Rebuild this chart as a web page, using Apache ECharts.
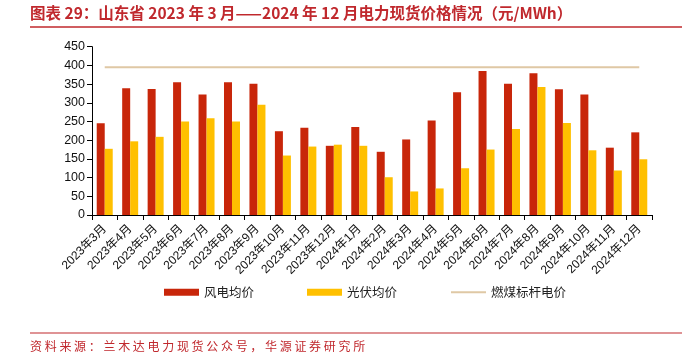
<!DOCTYPE html>
<html>
<head>
<meta charset="utf-8">
<script src="https://cdn.jsdelivr.net/npm/echarts@6/dist/echarts.min.js"></script>
<style>
html,body{margin:0;padding:0;background:#fff;}
#c{width:691px;height:355px;}
</style>
</head>
<body>
<div id="c"></div>
<script>
const categories = ['2023年3月','2023年4月','2023年5月','2023年6月','2023年7月','2023年8月','2023年9月','2023年10月','2023年11月','2023年12月','2024年1月','2024年2月','2024年3月','2024年4月','2024年5月','2024年6月','2024年7月','2024年8月','2024年9月','2024年10月','2024年11月','2024年12月'];
const windPrice = [245,339,337,355,322,355,351,224,233,185,235,169,202,253,328,385,351,379,336,322,180,221];
const solarPrice = [177,197,209,250,259,250,295,159,183,188,185,101,63,71,125,175,230,342,246,173,119,149];
const coalBenchmark = [394.9,394.9,394.9,394.9,394.9,394.9,394.9,394.9,394.9,394.9,394.9,394.9,394.9,394.9,394.9,394.9,394.9,394.9,394.9,394.9,394.9,394.9];
const yTicks = {min:0, max:450, interval:50};
const titleText = '图表 29：山东省 2023 年 3 月——2024 年 12 月电力现货价格情况（元/MWh）';
const sourceText = '资料来源：兰木达电力现货公众号，华源证券研究所';

const chart = echarts.init(document.getElementById('c'));
const sans = 'Liberation Sans, Arial, Noto Sans CJK SC, sans-serif';
chart.setOption({
  animation:false,
  textStyle:{fontFamily:sans},
  graphic:[
    {type:'text', left:30, top:5, style:{text:titleText, fill:'#C0282D', font:'bold 15.5px "Noto Sans CJK SC", sans-serif'}},
    {type:'line', shape:{x1:30,y1:27,x2:682,y2:27}, style:{stroke:'#C0282D', lineWidth:1.5}},
    {type:'line', shape:{x1:30,y1:333,x2:682,y2:333}, style:{stroke:'#C0282D', lineWidth:1.2}},
    {type:'text', left:30, top:340, style:{text:sourceText.split('').join(' '), fill:'#C0282D', font:'12px "Noto Sans CJK SC", sans-serif'}}
  ],
  legend:{
    left:164, top:286, padding:0, itemWidth:35, itemHeight:7, itemGap:53,
    textStyle:{fontSize:12.5, color:'#222', fontFamily:'Noto Sans CJK SC, sans-serif'},
    data:[{name:'风电均价', icon:'rect'},{name:'光伏均价', icon:'rect'},{name:'燃煤标杆电价', itemStyle:{opacity:0}, lineStyle:{color:'#DFC8A5', width:2}}]
  },
  grid:{left:92, right:39, top:46.7, bottom:140, containLabel:false},
  xAxis:{
    type:'category', data:categories, boundaryGap:true,
    axisLine:{lineStyle:{color:'#000', width:1}},
    axisTick:{show:true, alignWithLabel:false, length:5, lineStyle:{color:'#000'}},
    axisLabel:{rotate:45, fontSize:12, color:'#111', interval:0, margin:12}
  },
  yAxis:{
    type:'value', min:yTicks.min, max:yTicks.max, interval:yTicks.interval,
    axisLine:{show:true, lineStyle:{color:'#000'}},
    axisTick:{show:true, length:5, lineStyle:{color:'#000'}},
    splitLine:{show:false},
    axisLabel:{fontSize:12.5, color:'#111', margin:7}
  },
  series:[
    {name:'风电均价', type:'bar', data:windPrice, barWidth:8, barGap:'0%', itemStyle:{color:'#C8260A'}},
    {name:'光伏均价', type:'bar', data:solarPrice, barWidth:8, itemStyle:{color:'#FFC000'}},
    {name:'燃煤标杆电价', type:'line', data:coalBenchmark, symbol:'none', showSymbol:false, lineStyle:{color:'#DFC8A5', width:2}, itemStyle:{color:'#DFC8A5'}}
  ]
});
</script>
</body>
</html>
